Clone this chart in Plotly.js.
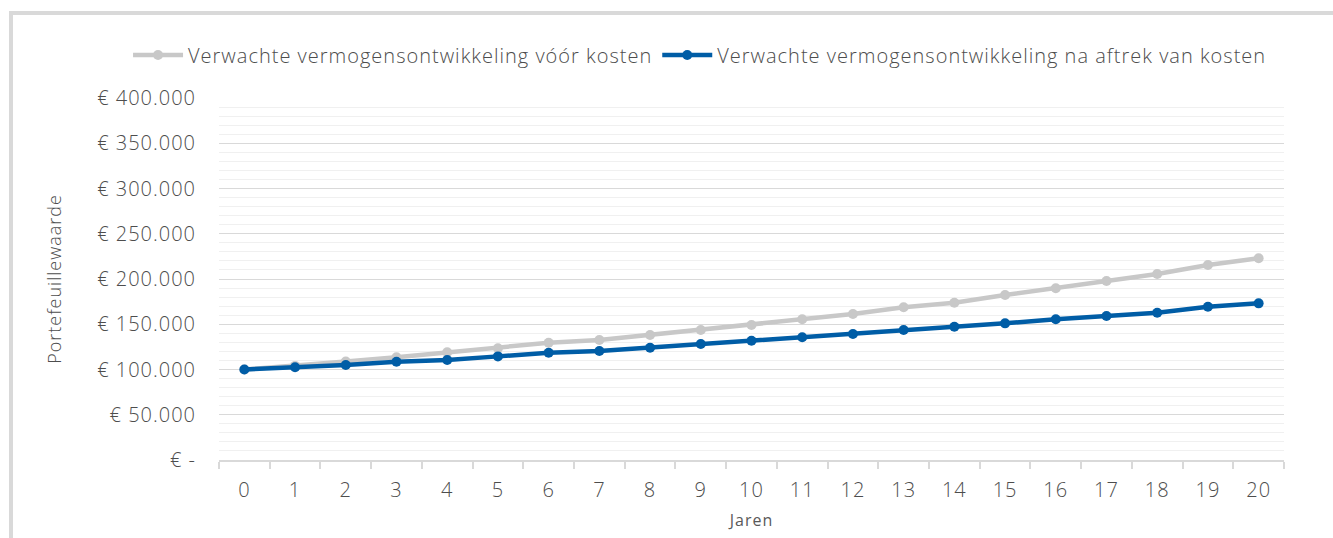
<!DOCTYPE html>
<html>
<head>
<meta charset="utf-8">
<script src="https://cdn.plot.ly/plotly-3.0.1.min.js"></script>
<style>
  html, body { margin: 0; padding: 0; background: #ffffff; overflow: hidden; width: 1333px; height: 538px; }
  text { letter-spacing: 1px; }
  #chart { position: absolute; left: 0; top: 0; width: 1333px; height: 538px; }
  #frame { position: absolute; left: 9px; top: 11px; width: 1324px; height: 527px;
           border-left: 4px solid #d9d9d9; border-top: 4px solid #d9d9d9; pointer-events: none; }
</style>
</head>
<body>
<div id="chart"></div>
<div id="frame"></div>
<script>
// Data
const years = ["0","1","2","3","4","5","6","7","8","9","10","11","12","13","14","15","16","17","18","19","20"];
const voorKosten = [100000,104000,108800,113500,119000,123400,129600,132600,138100,143600,149200,155500,161300,168700,173800,182300,189700,197800,205500,215500,222900];
const naKosten = [100000,102400,105000,108600,110500,114500,118600,120400,124100,128200,131800,135600,139200,143600,147300,151000,155500,159100,162800,169400,173100];
const seriesNames = ["Verwachte vermogensontwikkeling vóór kosten", "Verwachte vermogensontwikkeling na aftrek van kosten"];
const yTickVals = [0,50000,100000,150000,200000,250000,300000,350000,400000];
const yTickText = ["€ -","€ 50.000","€ 100.000","€ 150.000","€ 200.000","€ 250.000","€ 300.000","€ 350.000","€ 400.000"];

const FONT = "'Open Sans', 'Noto Sans', sans-serif";
const TXT = "#4d4d4d";

const traces = [
  { x: years, y: voorKosten, name: seriesNames[0], type: "scatter", mode: "lines+markers",
    line: { color: "#c8c8c8", width: 4.5 }, marker: { color: "#c8c8c8", size: 10 } },
  { x: years, y: naKosten, name: seriesNames[1], type: "scatter", mode: "lines+markers",
    line: { color: "#005da6", width: 4.5 }, marker: { color: "#005da6", size: 10 } }
];

const layout = {
  width: 1333, height: 538,
  margin: { l: 219, r: 49, t: 98, b: 78, autoexpand: false },
  paper_bgcolor: "#ffffff", plot_bgcolor: "#ffffff",
  font: { family: FONT, color: TXT, size: 20, weight: 300 },
  showlegend: true,
  legend: { orientation: "h", x: -0.0854, xanchor: "left", y: 1.119, yanchor: "middle",
            font: { size: 20, color: TXT, family: FONT, weight: 300 }, traceorder: "normal",
            itemwidth: 50 },
  xaxis: {
    type: "category", range: [-0.5, 20.5], tickson: "boundaries",
    ticks: "outside", ticklen: 7, tickwidth: 1.5, tickcolor: "#d9d9d9",
    showline: true, linecolor: "#d9d9d9", linewidth: 1.5,
    showgrid: false, zeroline: false, ticklabelstandoff: 11,
    tickfont: { size: 20, color: TXT, family: FONT, weight: 300 },
    title: { text: "Jaren", font: { size: 16, color: "#595959", family: FONT, weight: 400 }, standoff: 13 }
  },
  yaxis: {
    range: [0, 400000], tickmode: "array", tickvals: yTickVals, ticktext: yTickText,
    showgrid: true, gridcolor: "#d9d9d9", gridwidth: 1.3, zeroline: false,
    showline: false, ticks: "", ticklabelstandoff: 22,
    tickfont: { size: 20, color: TXT, family: FONT, weight: 300 },
    minor: { tickmode: "linear", tick0: 0, dtick: 10000, showgrid: true, gridcolor: "#f0f0f0", gridwidth: 1.3 },
    title: { text: "Portefeuillewaarde", font: { size: 18, color: TXT, family: FONT, weight: 300 }, standoff: 30 }
  }
};

Plotly.newPlot("chart", traces, layout, { displayModeBar: false, responsive: false });
</script>
</body>
</html>
